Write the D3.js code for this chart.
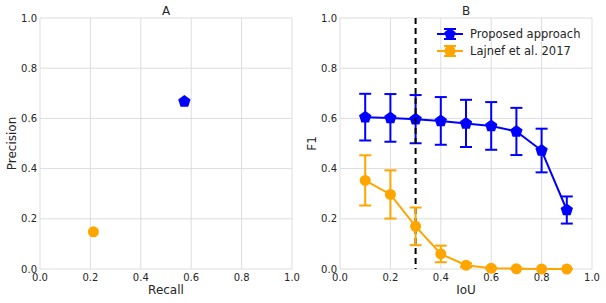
<!DOCTYPE html>
<html lang="en">
<head>
<meta charset="UTF-8">
<title>Precision / Recall and F1 vs IoU</title>
<script src="https://d3js.org/d3.v7.min.js"></script>
<style>
    body { margin: 0; background: #fff; }
    svg text { font-family: "DejaVu Sans", sans-serif; fill: #262626; }
    .grid line { stroke: #dddddd; stroke-width: 1; }
</style>
</head>
<body>
<svg width="606" height="303"></svg>
<script>
    // panel A: one point per method
    const methods = ["Proposed approach", "Lajnef et al. 2017"];
    const colors = ["#0000ff", "#ffa500"];
    const recall = [0.573, 0.212];
    const precision = [0.667, 0.148];

    // panel B: F1 at each IoU threshold
    const iou = [0.1, 0.2, 0.3, 0.4, 0.5, 0.6, 0.7, 0.8, 0.9];
    const f1Proposed = [0.605, 0.602, 0.597, 0.590, 0.580, 0.570, 0.548, 0.472, 0.235];
    const errProposed = [0.093, 0.095, 0.096, 0.095, 0.094, 0.095, 0.094, 0.087, 0.054];
    const f1Lajnef = [0.353, 0.297, 0.170, 0.060, 0.015, 0.003, 0.001, 0.000, 0.000];
    const errLajnef = [0.100, 0.096, 0.075, 0.033, 0.008, 0.002, 0.001, 0.000, 0.000];
    const ticks = [0, 0.2, 0.4, 0.6, 0.8, 1.0];
    const cutoff = 0.3;

    const svg = d3.select("svg");
    const plotTop = 18, plotBottom = 269;

    function panel(left, right, title, xLabel, yLabel) {
        const x = d3.scaleLinear().domain([0, 1]).range([left, right]);
        const y = d3.scaleLinear().domain([0, 1]).range([plotBottom, plotTop]);
        const g = svg.append("g");
        const grid = g.append("g").attr("class", "grid");
        grid.selectAll(".vx").data(ticks).enter().append("line")
            .attr("x1", d => x(d)).attr("x2", d => x(d))
            .attr("y1", plotTop).attr("y2", plotBottom);
        grid.selectAll(".hy").data(ticks).enter().append("line")
            .attr("y1", d => y(d)).attr("y2", d => y(d))
            .attr("x1", left).attr("x2", right);

        g.selectAll(".xt").data(ticks).enter().append("text")
            .attr("x", d => x(d)).attr("y", plotBottom + 12)
            .attr("text-anchor", "middle").attr("font-size", 10)
            .text(d3.format(".1f"));
        g.selectAll(".yt").data(ticks).enter().append("text")
            .attr("x", left - 3).attr("y", d => y(d)).attr("dy", "0.35em")
            .attr("text-anchor", "end").attr("font-size", 10)
            .text(d3.format(".1f"));

        g.append("text").attr("x", (left + right) / 2).attr("y", 15)
            .attr("text-anchor", "middle").attr("font-size", 12).text(title);
        g.append("text").attr("x", (left + right) / 2).attr("y", plotBottom + 25)
            .attr("text-anchor", "middle").attr("font-size", 12).text(xLabel);
        g.append("text")
            .attr("transform", `translate(${left - 24},${(plotTop + plotBottom) / 2}) rotate(-90)`)
            .attr("text-anchor", "middle").attr("font-size", 12).text(yLabel);
        return { g, x, y };
    }

    function pentPath(r) {
        const pts = d3.range(5).map(i => {
            const a = -Math.PI / 2 + i * 2 * Math.PI / 5;
            return [r * Math.cos(a), r * Math.sin(a)];
        });
        return "M" + pts.join("L") + "Z";
    }

    // Panel A
    const A = panel(40, 292, "A", "Recall", "Precision");
    A.g.append("path").attr("d", pentPath(6.5))
        .attr("transform", `translate(${A.x(recall[0])},${A.y(precision[0])})`)
        .attr("fill", colors[0]);
    A.g.append("circle").attr("cx", A.x(recall[1])).attr("cy", A.y(precision[1]))
        .attr("r", 5.5).attr("fill", colors[1]);

    // Panel B
    const B = panel(340, 592, "B", "IoU", "F1");

    function series(vals, errs, color, marker) {
        const s = B.g.append("g");
        s.append("path").datum(vals)
            .attr("d", d3.line().x((d, i) => B.x(iou[i])).y(d => B.y(d)))
            .attr("fill", "none").attr("stroke", color).attr("stroke-width", 2);
        vals.forEach((v, i) => {
            const cx = B.x(iou[i]);
            const lo = B.y(Math.max(0, v - errs[i])), hi = B.y(v + errs[i]);
            s.append("line").attr("x1", cx).attr("x2", cx).attr("y1", lo).attr("y2", hi)
                .attr("stroke", color).attr("stroke-width", 2);
            [lo, hi].forEach(yy => s.append("line")
                .attr("x1", cx - 6).attr("x2", cx + 6).attr("y1", yy).attr("y2", yy)
                .attr("stroke", color).attr("stroke-width", 2));
            if (marker === "pent") {
                s.append("path").attr("d", pentPath(6.5))
                    .attr("transform", `translate(${cx},${B.y(v)})`).attr("fill", color);
            } else {
                s.append("circle").attr("cx", cx).attr("cy", B.y(v)).attr("r", 5.5).attr("fill", color);
            }
        });
    }
    series(f1Proposed, errProposed, colors[0], "pent");

    // dashed IoU cutoff
    B.g.append("line").attr("x1", B.x(cutoff)).attr("x2", B.x(cutoff))
        .attr("y1", plotTop).attr("y2", plotBottom)
        .attr("stroke", "#000").attr("stroke-width", 2).attr("stroke-dasharray", "6,4");

    series(f1Lajnef, errLajnef, colors[1], "circle");

    // legend
    const leg = B.g.append("g").attr("transform", "translate(450,34)");
    methods.forEach((m, i) => {
        const yy = i * 17;
        const c = colors[i];
        leg.append("line").attr("x1", -13).attr("x2", 13).attr("y1", yy).attr("y2", yy)
            .attr("stroke", c).attr("stroke-width", 2);
        leg.append("line").attr("x1", 0).attr("x2", 0).attr("y1", yy - 5).attr("y2", yy + 5)
            .attr("stroke", c).attr("stroke-width", 2);
        [yy - 5, yy + 5].forEach(v => leg.append("line")
            .attr("x1", -6).attr("x2", 6).attr("y1", v).attr("y2", v)
            .attr("stroke", c).attr("stroke-width", 2));
        if (i === 0) leg.append("path").attr("d", pentPath(6)).attr("transform", `translate(0,${yy})`).attr("fill", c);
        else leg.append("circle").attr("cx", 0).attr("cy", yy).attr("r", 5.5).attr("fill", c);
        leg.append("text").attr("x", 20).attr("y", yy).attr("dy", "0.35em")
            .attr("font-size", 11.5).text(m);
    });
</script>
</body>
</html>
